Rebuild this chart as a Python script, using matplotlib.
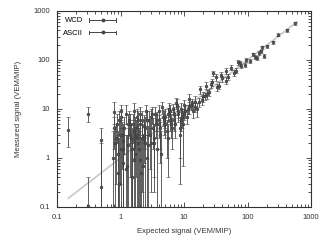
import numpy as np
import matplotlib.pyplot as plt
from matplotlib.lines import Line2D
from matplotlib.legend_handler import HandlerBase
from matplotlib.ticker import LogLocator, NullFormatter

# WCD: expected, measured, lower, upper
wcd_x = [550, 420, 300, 250, 200, 170, 150, 140, 120, 110, 95, 80, 70, 65, 55, 50, 45,
         40, 35, 32, 29, 28, 25, 22, 20, 18, 15, 14, 12, 11, 10, 9.5, 9, 8.5, 8, 7.5,
         7, 6.5, 6, 5.5, 5, 4.5, 4.2, 4, 3.7, 3.5, 3.2, 3, 2.8, 2.6, 2.5, 2.3, 2.1, 2,
         1.9, 1.8, 1.7, 1.6, 1.5, 1.4, 1.3, 1.2, 1.1, 1.05, 1.0, 0.95, 0.9, 0.85, 0.8, 0.75]
wcd_y = [560, 400, 330, 230, 190, 180, 140, 110, 130, 95, 100, 75, 90, 60, 70, 45, 60,
         42, 30, 45, 54, 35, 22, 30, 18, 25, 14, 9, 16, 7, 12, 5, 10, 3, 8, 13,
         6, 4, 9, 2.5, 7, 11, 3, 5, 1.5, 8, 4, 2, 6, 1, 9, 3, 0.5, 5,
         2, 7, 1.2, 3.5, 0.4, 5, 1.8, 8, 0.8, 3, 1.5, 6, 0.5, 2.5, 8.5, 1]
wcd_lo = [520, 380, 310, 215, 175, 165, 128, 100, 118, 86, 90, 67, 80, 53, 62, 39, 52,
          36, 25, 38, 48, 29, 18, 25, 14, 20, 10, 6.5, 12, 5, 9, 0.7, 7, 0.3, 5.5, 10,
          3.5, 1.5, 6, 0.4, 4, 8, 0.8, 2.5, 0.1, 5, 1.5, 0.2, 3, 0.1, 6, 0.8, 0.1, 2.5,
          0.1, 4, 0.1, 1, 0.1, 2, 0.1, 5, 0.1, 0.6, 0.1, 3, 0.1, 0.3, 5, 0.1]
wcd_hi = [600, 430, 350, 245, 205, 195, 152, 120, 142, 104, 110, 83, 100, 67, 78, 51, 68,
          48, 35, 52, 60, 41, 26, 36, 22, 30, 18, 12, 20, 9.5, 15, 9, 13, 6, 11, 17,
          8.5, 6.5, 12, 5, 10, 14, 5.5, 7.5, 3.5, 11, 6.5, 4, 9, 3, 12, 5.5, 2.5, 8,
          4.5, 10, 3.5, 6, 2.5, 8, 4, 12, 3, 5.5, 4, 9, 2.5, 5, 14, 3.5]

# ASCII: expected, measured, lower, upper
ascii_x = [0.15, 0.31, 0.31, 0.5, 0.5, 0.8, 0.9, 1.0, 1.1, 1.2, 1.3, 1.4, 1.5, 1.6, 1.7,
           1.8, 2.0, 2.2, 2.4, 2.7, 3.0, 3.3, 3.6, 4.0, 4.4, 4.8, 5.3, 5.8, 6.3, 7.0,
           7.8, 8.6, 9.3, 10.5, 12, 13.5, 16, 19, 23, 27, 33, 38, 45, 60, 75, 90, 130, 160, 180,
           0.82, 0.88, 0.93, 0.98, 1.03, 1.08, 1.15, 1.25, 1.35, 1.45, 1.55, 1.65, 1.75, 1.85,
           1.95, 2.05, 2.15, 2.25, 2.35, 2.45, 2.6, 2.9, 3.1, 3.4, 3.8, 4.1, 4.6, 5.0, 5.6,
           6.1, 6.7, 7.3, 8.0, 8.8, 10, 11.5, 13, 15, 17, 21]
ascii_y = [3.7, 8, 0.105, 2.3, 0.26, 4, 1.2, 7, 2.2, 0.6, 5, 3, 1.5, 9, 4,
           2.5, 0.9, 6, 4, 1.8, 7, 2.5, 5, 9, 1.2, 6, 3.5, 10, 5, 8,
           12, 4, 7, 9, 11, 13, 10, 15, 20, 32, 28, 50, 38, 55, 85, 80, 115, 150, 120,
           2, 5, 0.3, 3, 9, 1.5, 4, 0.7, 6, 2.5, 5, 0.9, 3, 6,
           1.5, 8, 2.5, 0.7, 4.5, 2, 6, 3, 8, 2, 6, 4, 7, 5, 8,
           6, 10, 5, 9, 6, 8, 10, 12, 11, 14, 18]
ascii_lo = [1.7, 5.5, 0.1, 0.1, 0.1, 1.5, 0.1, 4, 0.1, 0.1, 2.5, 0.4, 0.1, 6, 1.5,
            0.1, 0.1, 3, 1.5, 0.1, 4, 0.4, 2.5, 6, 0.1, 3, 1, 7, 2.5, 5,
            9, 1, 4, 6.5, 8, 10, 7, 12, 16, 27, 23, 44, 32, 48, 76, 72, 105, 138, 110,
            0.1, 2, 0.1, 0.3, 6, 0.1, 1.2, 0.1, 3, 0.1, 2, 0.1, 0.4, 3,
            0.1, 5, 0.2, 0.1, 2, 0.1, 3, 0.6, 5, 0.2, 3.5, 1.5, 4.5, 2.5, 5.5,
            3.5, 7.5, 2.5, 6.5, 3.5, 6, 8, 9.5, 8.5, 11, 15]
ascii_hi = [7, 11, 0.4, 4, 2, 7, 3.5, 10, 5, 3, 8, 6, 4, 13, 7,
            5, 3.5, 9, 7, 4.5, 10, 5, 8, 12, 3.5, 9, 6, 13, 8, 11,
            16, 7, 10, 12, 14, 16, 13, 18, 24, 37, 33, 56, 44, 62, 94, 88, 125, 162, 130,
            4.5, 8, 2.5, 6, 12, 4, 7, 3, 9, 5, 8, 3.5, 6, 9,
            4, 11, 5, 3, 7.5, 4.5, 9, 5.5, 11, 4.5, 8.5, 6.5, 9.5, 7.5, 10.5,
            8.5, 12.5, 7.5, 11.5, 8.5, 10, 12, 14.5, 13.5, 17, 21]


class HandlerHBar(HandlerBase):
    # gnuplot style key sample: horizontal bar with end caps and a dot
    def create_artists(self, legend, orig, xd, yd, w, h, fs, trans):
        y = yd + h / 2
        kw = dict(color='#444444', lw=0.7, transform=trans)
        arts = [Line2D([xd, xd + w], [y, y], **kw),
                Line2D([xd, xd], [y - h / 3, y + h / 3], **kw),
                Line2D([xd + w, xd + w], [y - h / 3, y + h / 3], **kw),
                Line2D([xd + w / 2], [y], marker='o', ms=1.8, color='#444444',
                       transform=trans)]
        return arts


plt.rcParams['font.family'] = ['Liberation Sans', 'DejaVu Sans']
fig = plt.figure(figsize=(3.32, 2.44), dpi=100)
ax = fig.add_axes([0.172, 0.152, 0.765, 0.803])

ax.plot([0.15, 600], [0.15, 600], color='#c8c8c8', lw=1.2, zorder=1)

handles = []
for xs, ys, lo, hi, lab in [(wcd_x, wcd_y, wcd_lo, wcd_hi, 'WCD'),
                            (ascii_x, ascii_y, ascii_lo, ascii_hi, 'ASCII')]:
    ys = np.array(ys)
    err = [ys - np.array(lo), np.array(hi) - ys]
    ax.errorbar(xs, ys, yerr=err, fmt='o', ms=2, color='#3a3a3a', mfc='#555555',
                mec='#333333', mew=0.4, ecolor='#444444', elinewidth=0.6, capsize=1.5,
                capthick=0.6, zorder=2)
    handles.append(Line2D([], [], label=lab))

ax.set_xscale('log')
ax.set_yscale('log')
ax.set_xlim(0.1, 1000)
ax.set_ylim(0.1, 1000)
ax.set_xticks([0.1, 1, 10, 100, 1000])
ax.set_xticklabels(['0.1', '1', '10', '100', '1000'])
ax.set_yticks([0.1, 1, 10, 100, 1000])
ax.set_yticklabels(['0.1', '1', '10', '100', '1000'])
ax.xaxis.set_minor_locator(LogLocator(subs=np.arange(2, 10)))
ax.yaxis.set_minor_locator(LogLocator(subs=np.arange(2, 10)))
ax.xaxis.set_minor_formatter(NullFormatter())
ax.yaxis.set_minor_formatter(NullFormatter())
ax.tick_params(which='both', direction='in', top=True, right=True, labelsize=5.5,
               colors='#333333', width=0.6)
ax.tick_params(which='major', length=3.5, pad=5)
ax.tick_params(which='minor', length=2)
for s in ax.spines.values():
    s.set_linewidth(0.8)
    s.set_color('#333333')

ax.set_xlabel('Expected signal (VEM/MIP)', fontsize=5.5, color='#333333', labelpad=5)
ax.set_ylabel('Measured signal (VEM/MIP)', fontsize=5.5, color='#333333', labelpad=8)

ax.legend(handles=handles, loc='upper left', frameon=False, fontsize=5.5,
          markerfirst=False, handlelength=3.5, handletextpad=0.8,
          borderaxespad=0.4, labelspacing=0.7,
          handler_map={Line2D: HandlerHBar()})

fig.savefig('out.png', dpi=100)
